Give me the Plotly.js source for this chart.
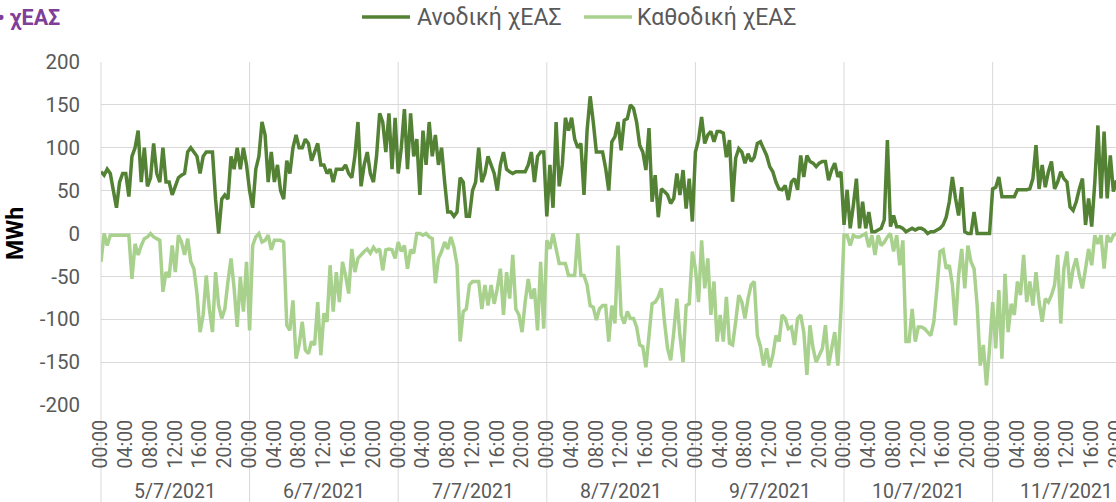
<!DOCTYPE html>
<html><head><meta charset="utf-8">
<script src="https://cdn.plot.ly/plotly-3.0.1.min.js"></script>
<style>html,body{margin:0;padding:0;overflow:hidden;background:#fff}#chart{width:1140px;height:502px}</style>
</head><body><div id="chart"></div>
<script>
// Day (group) labels and tick labels
const dayLabels = ['5/7/2021','6/7/2021','7/7/2021','8/7/2021','9/7/2021','10/7/2021','11/7/2021'];
const timeLabels = ['00:00','04:00','08:00','12:00','16:00','20:00'];
const yTickValues = [-200,-150,-100,-50,0,50,100,150,200];
const yTickLabels = ['-200','-150','-100','-50','0','50','100','150','200'];
const seriesNames = ['Ανοδική χΕΑΣ','Καθοδική χΕΑΣ'];
const stepHours = 0.5; // one value every 30 minutes, starting 5/7/2021 00:00

// Ανοδική χΕΑΣ (MWh), one row per day
const upward = [
 72,68,75,70,50,30,60,70,70,43,90,100,120,60,100,55,65,105,70,60,100,60,60,45,55,65,68,70,95,100,95,90,70,90,95,95,95,40,0,40,45,40,90,75,100,75,100,80,
 50,30,75,90,130,115,60,95,60,80,50,40,85,70,100,115,100,100,110,105,85,95,105,80,80,70,75,60,75,75,75,80,70,65,90,130,55,80,95,70,60,90,140,130,95,140,75,135,
 70,100,145,75,140,90,110,45,120,80,130,90,115,80,100,60,25,25,20,25,65,60,20,20,50,60,100,60,70,90,80,70,50,80,95,75,72,70,72,72,72,72,80,95,60,90,95,95,
 20,80,30,130,55,80,135,120,135,110,100,105,45,120,160,130,95,95,95,76,50,107,113,130,97,132,134,150,146,130,103,95,74,123,37,68,19,52,49,45,35,41,70,45,74,29,64,14,
 95,109,136,105,115,119,107,119,119,117,89,109,37,88,99,95,82,93,84,89,105,107,99,91,78,72,60,52,51,56,39,60,64,51,91,66,91,84,82,78,82,84,84,62,74,82,66,72,
 10,51,6,33,64,6,37,6,25,2,2,4,6,16,109,8,21,8,8,6,2,4,6,4,6,6,4,0,2,2,4,6,10,19,37,66,41,21,54,2,0,0,25,0,0,0,0,0,
 52,54,66,43,43,43,43,43,51,51,51,51,52,64,103,52,80,54,72,84,52,60,72,64,60,31,27,37,52,64,10,41,8,60,126,41,119,41,91,49,62
];

// Καθοδική χΕΑΣ (MWh), one row per day
const downward = [
 -33,0,-14,-2,-2,-2,-2,-2,-2,-2,-53,-12,-25,-14,-6,-4,0,-4,-6,-8,-68,-45,-51,-14,-45,-2,-10,-25,-6,-33,-41,-70,-115,-95,-49,-88,-115,-45,-84,-99,-88,-56,-29,-64,-109,-51,-91,-33,
 -113,-14,-4,0,-10,-8,-2,-19,-8,-8,-8,-10,-107,-113,-78,-146,-130,-103,-136,-140,-126,-130,-80,-142,-93,-103,-37,-91,-45,-80,-33,-49,-70,-18,-45,-29,-25,-21,-18,-23,-16,-21,-18,-43,-19,-18,-19,-29,
 -10,-21,-14,-41,-19,-23,0,0,-2,0,-4,-6,-58,-29,-21,-10,-18,-4,-16,-37,-126,-91,-88,-60,-56,-56,-56,-88,-60,-84,-60,-82,-64,-41,-95,-45,-76,-25,-88,-95,-115,-80,-53,-76,-64,-113,-33,-111,
 -8,-18,0,-18,-35,-35,-35,-49,-49,-49,0,-49,-49,-60,-84,-86,-101,-88,-84,-84,-126,-84,-105,-14,-95,-105,-91,-99,-99,-109,-130,-132,-156,-119,-82,-80,-74,-64,-103,-134,-148,-115,-76,-119,-150,-84,-82,-21,
 -41,-80,-8,-64,-29,-95,-56,-126,-95,-126,-74,-128,-130,-103,-72,-80,-99,-76,-60,-56,-119,-132,-154,-134,-156,-142,-119,-126,-95,-99,-111,-109,-130,-99,-95,-115,-165,-107,-134,-150,-142,-134,-107,-154,-134,-115,-154,-91,
 -2,-2,-14,-2,-4,-4,-2,0,-16,-2,-25,-2,-14,-10,-4,0,-21,-2,-37,-8,-126,-126,-88,-126,-109,-109,-111,-115,-119,-103,-64,-21,-19,-41,-37,-60,-107,-49,-18,-64,-14,-33,-41,-84,-154,-130,-177,-134,
 -80,-134,-66,-146,-47,-115,-82,-95,-56,-72,-25,-80,-56,-84,-45,-80,-103,-76,-80,-72,-60,-25,-105,-41,-21,-64,-41,-29,-49,-64,-41,-18,-37,-2,-12,-2,-41,-2,-10,-2,0
];

const W = 1140, H = 502;
const M = {l: 101, r: 10, t: 62, b: 97};
const PW = W - M.l - M.r, PH = H - M.t - M.b;
const hourPx = 6.192;
const xMax = PW / hourPx;
const px = p => (p - M.l) / PW;        // pixel -> paper x
const py = p => (H - M.b - p) / PH;    // pixel -> paper y

const hours = upward.map((_, i) => i * stepHours);
const tickVals = [], tickText = [];
for (let d = 0; d < dayLabels.length; d++) {
  timeLabels.forEach((t, k) => { tickVals.push(d * 24 + k * 4); tickText.push(t); });
}

const darkGreen = '#548235', lightGreen = '#a9d18e', grid = '#d9d9d9', txt = '#595959';
const font = 'Roboto, Arial, sans-serif';

const traces = [
  {x: hours, y: upward, name: seriesNames[0], type: 'scatter', mode: 'lines', line: {color: darkGreen, width: 3.5, simplify: false}},
  {x: hours, y: downward, name: seriesNames[1], type: 'scatter', mode: 'lines', line: {color: lightGreen, width: 3.5, simplify: false}}
];

const shapes = [];
const annotations = [];
dayLabels.forEach((lab, d) => {
  shapes.push({type: 'line', xref: 'paper', yref: 'paper', x0: px(M.l + d * 24 * hourPx), x1: px(M.l + d * 24 * hourPx), y0: py(H + 5), y1: 1, line: {color: grid, width: 1}, layer: 'below'});
  annotations.push({xref: 'x', yref: 'paper', x: d * 24 + 12, y: py(491), text: lab, showarrow: false, xanchor: 'center', yanchor: 'middle', font: {family: font, size: 19.5, color: txt}});
});

// manual legend
const legendItems = [
  {name: seriesNames[0], color: darkGreen, x0: 362, x1: 410, tx: 415},
  {name: seriesNames[1], color: lightGreen, x0: 584, x1: 632, tx: 635}
];
legendItems.forEach(it => {
  shapes.push({type: 'line', xref: 'paper', yref: 'paper', x0: px(it.x0), x1: px(it.x1), y0: py(17), y1: py(17), line: {color: it.color, width: 3.5}});
  annotations.push({xref: 'paper', yref: 'paper', x: px(it.tx), y: py(17), text: it.name, showarrow: false, xanchor: 'left', yanchor: 'middle', font: {family: font, size: 23, color: txt}});
});
annotations.push({xref: 'paper', yref: 'paper', x: px(62), y: py(18), text: '• χΕΑΣ', showarrow: false, xanchor: 'right', yanchor: 'middle', font: {family: font, size: 21.5, color: '#7f3f98', weight: 'bold'}});

const layout = {
  width: W, height: H,
  margin: M,
  paper_bgcolor: '#ffffff', plot_bgcolor: 'rgba(0,0,0,0)',
  showlegend: false,
  xaxis: {
    type: 'linear', range: [0, xMax], showgrid: false, zeroline: false, showline: false,
    tickmode: 'array', tickvals: tickVals, ticktext: tickText, tickangle: -90, ticks: '',
    ticklabelstandoff: 10,
    tickfont: {family: font, size: 19.5, color: txt}
  },
  yaxis: {
    range: [-200, 200], tickmode: 'array', tickvals: yTickValues, ticktext: yTickLabels,
    showgrid: true, gridcolor: grid, gridwidth: 1,
    zeroline: false, showline: false, ticks: '', ticklabelstandoff: 20,
    tickfont: {family: font, size: 20.5, color: txt},
    title: {text: 'MWh', standoff: 9, font: {family: font, size: 23, color: '#000000', weight: 'bold'}}
  },
  shapes: shapes,
  annotations: annotations
};

Plotly.newPlot('chart', traces, layout, {displayModeBar: false, staticPlot: true});
</script>
</body></html>
